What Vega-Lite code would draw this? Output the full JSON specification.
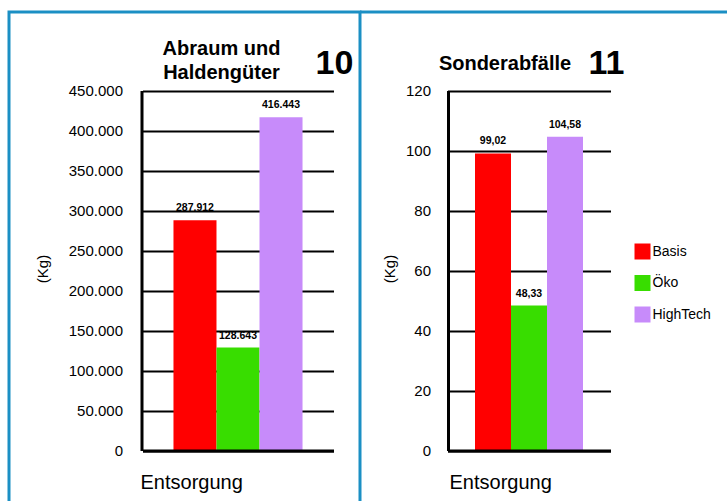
{
  "$schema": "https://vega.github.io/schema/vega-lite/v6.json",
  "background": "white",
  "padding": {"left": 7, "top": 10, "right": 0, "bottom": 0},
  "spacing": 0,
  "bounds": "flush",
  "resolve": {"legend": {"color": "independent"}, "scale": {"xOffset": "independent"}},
  "config": {
    "font": "Liberation Sans",
    "locale": {
      "number": {"decimal": ",", "thousands": ".", "grouping": [3], "currency": ["", " €"]}
    },
    "axis": {
      "domainColor": "black",
      "labelColor": "black",
      "titleColor": "black",
      "ticks": false,
      "tickSize": 0,
      "gridColor": "black",
      "gridOpacity": 1,
      "gridWidth": 2
    },
    "title": {"color": "black", "fontWeight": "bold", "fontSize": 20}
  },
  "hconcat": [
    {
      "width": 351,
      "height": 489,
      "view": {"stroke": "#1b8fc4", "strokeWidth": 3, "strokeDash": [840, 351, 489]},
      "title": {
        "text": ["Abraum und", "Haldengüter"],
        "anchor": "start",
        "frame": "group",
        "align": "center",
        "baseline": "alphabetic",
        "lineHeight": 24,
        "offset": -44,
        "dx": 212.5,
        "dy": 42.5
      },
      "data": {
        "values": [
          {"Bereich": "Entsorgung", "Variante": "Basis", "Wert": 287912},
          {"Bereich": "Entsorgung", "Variante": "Öko", "Wert": 128643},
          {"Bereich": "Entsorgung", "Variante": "HighTech", "Wert": 416443}
        ]
      },
      "encoding": {
        "x": {
          "field": "Bereich",
          "type": "nominal",
          "scale": {"range": [133.5, 324.5], "paddingInner": 0, "paddingOuter": 0},
          "axis": {
            "orient": "bottom",
            "offset": -50.5,
            "zindex": 1,
            "domainWidth": 3,
            "labelAngle": 0,
            "labelAlign": "left",
            "labelBaseline": "alphabetic",
            "labelPadding": 38,
            "labelOffset": -97.5,
            "labelFontSize": 20,
            "title": "10",
            "titleFontSize": 34,
            "titleFontWeight": "bold",
            "titleAlign": "center",
            "titleBaseline": "alphabetic",
            "titleX": 325,
            "titleY": -377
          }
        },
        "xOffset": {
          "field": "Variante",
          "type": "nominal",
          "sort": ["Basis", "Öko", "HighTech"],
          "scale": {"paddingInner": 0, "paddingOuter": 0.72}
        },
        "y": {
          "field": "Wert",
          "type": "quantitative",
          "scale": {"domain": [0, 450000], "range": [438.5, 78.5], "nice": false},
          "axis": {
            "values": [0, 50000, 100000, 150000, 200000, 250000, 300000, 350000, 400000, 450000],
            "format": ",.0f",
            "offset": -132.5,
            "domainWidth": 3,
            "labelPadding": 19,
            "labelFontSize": 15,
            "labelBaseline": "middle",
            "grid": true,
            "title": "(Kg)",
            "titleFontSize": 15,
            "titleFontWeight": "normal",
            "titleAngle": -90,
            "titleAlign": "center",
            "titleBaseline": "middle",
            "titleX": -99,
            "titleY": 256.5
          }
        }
      },
      "layer": [
        {
          "mark": {"type": "bar"},
          "encoding": {
            "color": {
              "field": "Variante",
              "type": "nominal",
              "scale": {"domain": ["Basis", "Öko", "HighTech"], "range": ["#ff0000", "#38dd00", "#c78bfa"]},
              "legend": null
            }
          }
        },
        {
          "mark": {"type": "text", "dy": -9, "fontSize": 10.5, "fontWeight": "bold", "baseline": "alphabetic", "color": "black"},
          "encoding": {"text": {"field": "Wert", "type": "quantitative", "format": ",.0f"}}
        }
      ]
    },
    {
      "width": 367,
      "height": 489,
      "view": {"stroke": "#1b8fc4", "strokeWidth": 3, "strokeDash": [367, 1345]},
      "title": {
        "text": "Sonderabfälle",
        "anchor": "start",
        "frame": "group",
        "align": "center",
        "baseline": "alphabetic",
        "offset": -18.5,
        "dx": 145,
        "dy": 59.5
      },
      "data": {
        "values": [
          {"Bereich": "Entsorgung", "Variante": "Basis", "Wert": 99.02},
          {"Bereich": "Entsorgung", "Variante": "Öko", "Wert": 48.33},
          {"Bereich": "Entsorgung", "Variante": "HighTech", "Wert": 104.58}
        ]
      },
      "encoding": {
        "x": {
          "field": "Bereich",
          "type": "nominal",
          "scale": {"range": [87.5, 250.5], "paddingInner": 0, "paddingOuter": 0},
          "axis": {
            "orient": "bottom",
            "offset": -50.5,
            "zindex": 1,
            "domainWidth": 3,
            "labelAngle": 0,
            "labelAlign": "left",
            "labelBaseline": "alphabetic",
            "labelPadding": 38,
            "labelOffset": -79.5,
            "labelFontSize": 20,
            "title": "11",
            "titleFontSize": 34,
            "titleFontWeight": "bold",
            "titleAlign": "center",
            "titleBaseline": "alphabetic",
            "titleX": 246,
            "titleY": -377
          }
        },
        "xOffset": {
          "field": "Variante",
          "type": "nominal",
          "sort": ["Basis", "Öko", "HighTech"],
          "scale": {"paddingInner": 0, "paddingOuter": 0.764}
        },
        "y": {
          "field": "Wert",
          "type": "quantitative",
          "scale": {"domain": [0, 120], "range": [438.5, 78.5], "nice": false},
          "axis": {
            "values": [0, 20, 40, 60, 80, 100, 120],
            "format": "d",
            "offset": -88,
            "domainWidth": 3,
            "labelPadding": 17.5,
            "labelFontSize": 15,
            "labelBaseline": "middle",
            "grid": true,
            "title": "(Kg)",
            "titleFontSize": 15,
            "titleFontWeight": "normal",
            "titleAngle": -90,
            "titleAlign": "center",
            "titleBaseline": "middle",
            "titleX": -58.5,
            "titleY": 256.5
          }
        }
      },
      "layer": [
        {
          "mark": {"type": "bar"},
          "encoding": {
            "color": {
              "field": "Variante",
              "type": "nominal",
              "scale": {"domain": ["Basis", "Öko", "HighTech"], "range": ["#ff0000", "#38dd00", "#c78bfa"]},
              "legend": {
                "orient": "none",
                "legendX": 274.5,
                "legendY": 231.5,
                "title": null,
                "padding": 0,
                "symbolType": "square",
                "symbolSize": 256,
                "symbolStrokeWidth": 0,
                "symbolOpacity": 1,
                "labelFontSize": 14,
                "labelColor": "black",
                "labelOffset": 2,
                "rowPadding": 15.5
              }
            }
          }
        },
        {
          "mark": {"type": "text", "dy": -9, "fontSize": 10.5, "fontWeight": "bold", "baseline": "alphabetic", "color": "black"},
          "encoding": {"text": {"field": "Wert", "type": "quantitative", "format": ".2f"}}
        }
      ]
    }
  ]
}
